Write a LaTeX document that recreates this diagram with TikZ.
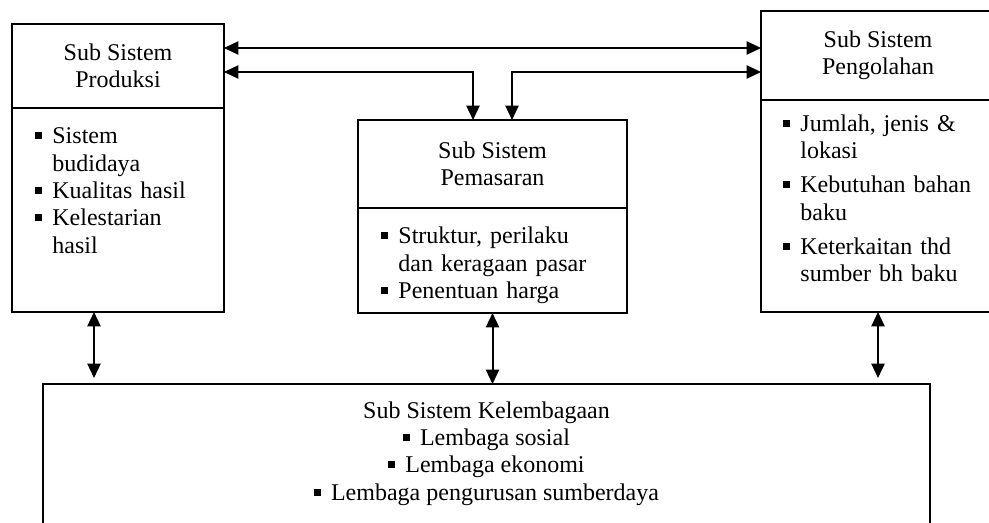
\documentclass[tikz,border=0pt]{standalone}
\usepackage{fontspec}
\setmainfont{Liberation Serif}
\usetikzlibrary{calc}
\usetikzlibrary{positioning}
\usetikzlibrary{arrows.meta}
\tikzstyle{headbox} = [draw, rectangle, line width=1pt, inner sep=0pt, outer sep=0pt, anchor=north west, align=center, font=\fontsize{12}{13.7}\selectfont]
\tikzstyle{bodybox} = [draw, rectangle, line width=1pt, inner sep=0pt, outer sep=0pt, anchor=north west]
\tikzstyle{listtext} = [anchor=north west, inner sep=0pt, align=left, font=\fontsize{12}{13.7}\selectfont]
\tikzstyle{link} = [line width=1pt, {Triangle[length=7.2pt,width=6.6pt]}-{Triangle[length=7.2pt,width=6.6pt]}]
\newcommand{\sqbul}{\makebox[8.5pt][l]{\rule[2.3pt]{3.5pt}{3.5pt}}}
\newcommand{\bitem}[1]{\par\hangindent=8.5pt\hangafter=1\noindent\sqbul#1}

\begin{document}
\begin{tikzpicture}[x=0.5pt, y=-0.5pt]
    \useasboundingbox (0,0) rectangle (989,523);

    % produksi
    \node[headbox, minimum width=106pt, minimum height=42pt] (prod_head) at (12,24) {Sub Sistem\\Produksi};
    \node[bodybox, minimum width=106pt, minimum height=102pt] (prod_body) at (prod_head.south west) {};
    \node[listtext, text width=95pt] (prod_list) at ($(prod_body.north west)+(23,8)$) {\bitem{Sistem\newline budidaya}\bitem{Kualitas hasil}\bitem{Kelestarian\newline hasil}\par};

    % pemasaran
    \node[headbox, minimum width=134.5pt, minimum height=44pt] (mid_head) at (358,120) {Sub Sistem\\Pemasaran};
    \node[bodybox, minimum width=134.5pt, minimum height=52.5pt] (mid_body) at (mid_head.south west) {};
    \node[listtext, text width=115pt] (mid_list) at ($(mid_body.north west)+(23,8)$) {\bitem{Struktur, perilaku\newline dan keragaan pasar}\bitem{Penentuan harga}\par};

    % pengolahan
    \node[headbox, minimum width=117pt, minimum height=44.5pt] (peng_head) at (761,11) {Sub Sistem\\Pengolahan};
    \node[bodybox, minimum width=117pt, minimum height=106pt] (peng_body) at (peng_head.south west) {};
    \node[listtext, text width=105pt] (peng_list) at ($(peng_body.north west)+(22,-3)$) {\setlength{\parskip}{3.3pt}\bitem{Jumlah, jenis \&\newline lokasi}\bitem{Kebutuhan bahan\newline baku}\bitem{Keterkaitan thd\newline sumber bh baku}\par};

    % kelembagaan
    \node[bodybox, minimum width=443.5pt, minimum height=75pt] (lemb) at (43,384) {};
    \node[listtext, anchor=north, align=center] (lemb_text) at ($(lemb.north)+(0,17)$) {Sub Sistem Kelembagaan\\\sqbul Lembaga sosial\\\sqbul Lembaga ekonomi\\\sqbul Lembaga pengurusan sumberdaya};

    \coordinate (row_a) at (0,48);
    \coordinate (row_b) at (0,72);
    \draw[link] (prod_head.east |- row_a) -- (peng_head.west |- row_a);
    \draw[link] (prod_head.east |- row_b) -| ($(mid_head.north)+(-19.5,0)$);
    \draw[link] (peng_head.west |- row_b) -| ($(mid_head.north)+(19.5,0)$);

    \draw[link] ($(prod_body.south)+(-24,0)$) -- ($(prod_body.south |- lemb.north)+(-24,-6)$);
    \draw[link] (mid_body.south) -- (mid_body.south |- lemb.north);
    \draw[link] (peng_body.south) -- ($(peng_body.south |- lemb.north)+(0,-6)$);
\end{tikzpicture}
\end{document}
